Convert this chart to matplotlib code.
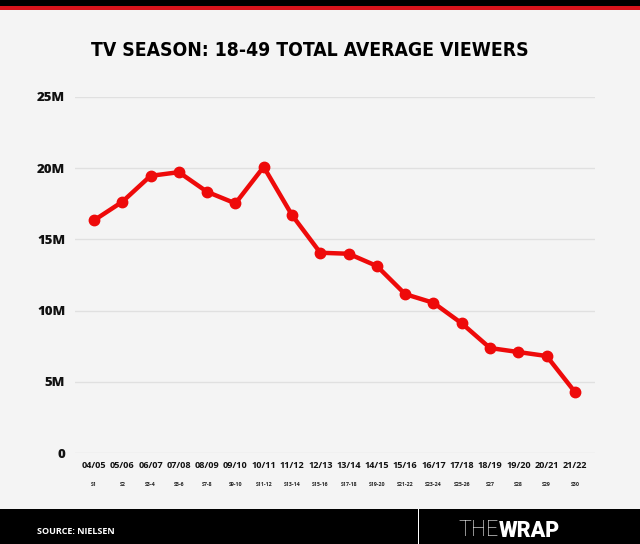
import matplotlib.pyplot as plt
import matplotlib.transforms as mtransforms
from matplotlib import font_manager
from matplotlib.patches import Rectangle

# TV season 18-49 total average viewers (millions)
seasons = ['04/05', '05/06', '06/07', '07/08', '08/09', '09/10', '10/11', '11/12', '12/13',
           '13/14', '14/15', '15/16', '16/17', '17/18', '18/19', '19/20', '20/21', '21/22']
season_nums = ['S1', 'S2', 'S3-4', 'S5-6', 'S7-8', 'S9-10', 'S11-12', 'S13-14', 'S15-16',
               'S17-18', 'S19-20', 'S21-22', 'S23-24', 'S25-26', 'S27', 'S28', 'S29', 'S30']
viewers = [16.33, 17.63, 19.45, 19.71, 18.33, 17.52, 20.08, 16.70, 14.06,
           13.99, 13.13, 11.16, 10.55, 9.11, 7.38, 7.10, 6.82, 4.30]
yticks = [0, 5, 10, 15, 20, 25]
ytick_labels = ['0', '5M', '10M', '15M', '20M', '25M']

W, H = 640, 544
RED = '#ee0a0a'
BG = '#f4f4f4'
label_font = 'Open Sans'

# look for a narrow / condensed bold face for the title
cond = [f for f in font_manager.fontManager.ttflist
        if ('Condensed' in f.name or 'Narrow' in f.name or f.stretch in ('condensed', 'semi-condensed'))]
title_font = 'DejaVu Sans'
title_stretch = 'normal'
if cond:
    title_font = cond[0].name
    title_stretch = cond[0].stretch

fig = plt.figure(figsize=(W / 100, H / 100), dpi=100, facecolor=BG)

# top bands
fig.patches.append(Rectangle((0, 1 - 7 / H), 1, 7 / H, transform=fig.transFigure,
                             facecolor='black', edgecolor='none'))
fig.patches.append(Rectangle((0, 1 - 10 / H), 1, 3.5 / H, transform=fig.transFigure,
                             facecolor='#d8141c', edgecolor='none'))

title = fig.text(0.484, 1 - 50 / H, 'TV SEASON: 18-49 TOTAL AVERAGE VIEWERS', ha='center', va='center',
                 fontsize=24, fontweight='bold', family=title_font, fontstretch=title_stretch,
                 color='black')
fig.canvas.draw()
tw = title.get_window_extent().width
if tw > 438:
    title.set_fontsize(24 * 438 / tw)

left, right = 75 / W, 595 / W
bottom, top = (H - 453.3) / H, (H - 96.7) / H
ax = fig.add_axes([left, bottom, right - left, top - bottom])
ax.set_facecolor('none')

x = list(range(len(seasons)))
ax.plot(x, viewers, color=RED, lw=3.2, marker='o', ms=7.5, solid_joinstyle='round', zorder=3)

ax.set_xlim(-0.67, len(seasons) - 1 + 0.71)
ax.set_ylim(0, 25)
ax.set_yticks(yticks)
ax.set_yticklabels(ytick_labels, family=label_font, fontweight='heavy', fontsize=9.5)
ax.tick_params(axis='y', length=0, pad=7, colors='#111111')
ax.set_xticks([])
ax.grid(axis='y', color='#e0e0e0', lw=1)
for s in ax.spines.values():
    s.set_visible(False)

trans = mtransforms.blended_transform_factory(ax.transData, fig.transFigure)
for i in x:
    ax.text(i, 1 - 465 / H, seasons[i], transform=trans, ha='center', va='center',
            family=label_font, fontweight='bold', fontsize=6.6, color='#111111')
    ax.text(i, 1 - 485 / H, season_nums[i], transform=trans, ha='center', va='center',
            family=label_font, fontweight='bold', fontsize=3.8, color='#222222')

# footer
fig.patches.append(Rectangle((0, 0), 1, (H - 509) / H, transform=fig.transFigure,
                             facecolor='black', edgecolor='none'))
fig.patches.append(Rectangle((418 / W, 0), 1.2 / W, (H - 509) / H, transform=fig.transFigure,
                             facecolor='white', edgecolor='none'))
fig.text(37 / W, 1 - 531 / H, 'SOURCE: NIELSEN', ha='left', va='center', color='white',
         family=label_font, fontweight='bold', fontsize=6.5)
t1 = fig.text(458 / W, 1 - 531 / H, 'THE', ha='left', va='center', color='white',
              family='Roboto', fontweight='light', fontsize=15.5)
fig.canvas.draw()
bb = t1.get_window_extent()
fig.text(bb.x1 / W + 1 / W, 1 - 531 / H, 'WRAP', ha='left', va='center', color='white',
         family='Roboto', fontweight='black', fontsize=15.5)

fig.savefig('out.png', dpi=100, facecolor=BG)
